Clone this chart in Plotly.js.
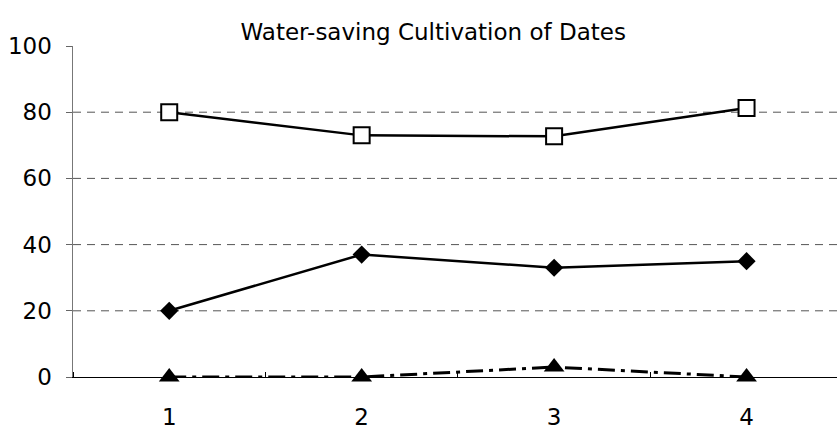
<!DOCTYPE html>
<html><head><meta charset="utf-8">
<script src="https://cdn.plot.ly/plotly-3.0.1.min.js"></script>
<style>html,body{margin:0;padding:0;background:#fff}#chart{width:838px;height:429px}</style>
</head><body><div id="chart"></div>
<script>
const categories = [1, 2, 3, 4];
const seriesSquare = [80, 73, 72.7, 81.3];
const seriesDiamond = [20, 37, 33, 35];
const seriesTriangle = [0, 0, 3, 0];
const yTicks = [0, 20, 40, 60, 80, 100];
const gridVals = [20, 40, 60, 80];
const titleText = 'Water-saving Cultivation of Dates';

const FONT = '"DejaVu Sans", sans-serif';

const traces = [
  {x: categories, y: seriesSquare, mode: 'lines+markers', line: {color: '#000', width: 2.5},
   marker: {symbol: 'square', size: 16, color: '#fff', line: {color: '#000', width: 2}}, cliponaxis: false},
  {x: categories, y: seriesDiamond, mode: 'lines+markers', line: {color: '#000', width: 2.5},
   marker: {symbol: 'diamond', size: 14, color: '#000'}, cliponaxis: false},
  {x: categories, y: seriesTriangle, mode: 'lines+markers', line: {color: '#000', width: 3, dash: '17px,6px,4px,6px'},
   marker: {symbol: 'triangle-up', size: 18, color: '#000'}, cliponaxis: false}
];

const shapes = gridVals.map(v => ({type: 'line', xref: 'paper', x0: 0, x1: 1, yref: 'y', y0: v, y1: v,
  line: {color: '#555', width: 1, dash: '8px,6px'}, layer: 'below'}));

const layout = {
  width: 838, height: 429,
  margin: {l: 73, r: 1, t: 46, b: 52},
  paper_bgcolor: '#fff', plot_bgcolor: '#fff',
  showlegend: false,
  title: {text: titleText, font: {family: FONT, size: 23, color: '#000'}, x: 0.517, xanchor: 'center', y: 0.925, yanchor: 'middle'},
  xaxis: {range: [0.5, 4.47], tickvals: categories, ticktext: categories.map(String), ticks: '',
    showgrid: false, zeroline: false, showline: true, linecolor: '#000', linewidth: 1,
    minor: {ticks: 'inside', tick0: 0.5, dtick: 1, ticklen: 5, tickcolor: '#000', showgrid: false},
    tickfont: {family: FONT, size: 23, color: '#000'}, ticklabelstandoff: 19, fixedrange: true},
  yaxis: {range: [0, 100], tickvals: yTicks, ticks: 'outside', ticklen: 6, tickcolor: '#666',
    showgrid: false, zeroline: false, showline: true, linecolor: '#777', linewidth: 1.5,
    tickfont: {family: FONT, size: 23, color: '#000'}, ticklabelstandoff: 9, fixedrange: true},
  shapes: shapes
};

Plotly.newPlot('chart', traces, layout, {displayModeBar: false, staticPlot: true});
</script></body></html>
